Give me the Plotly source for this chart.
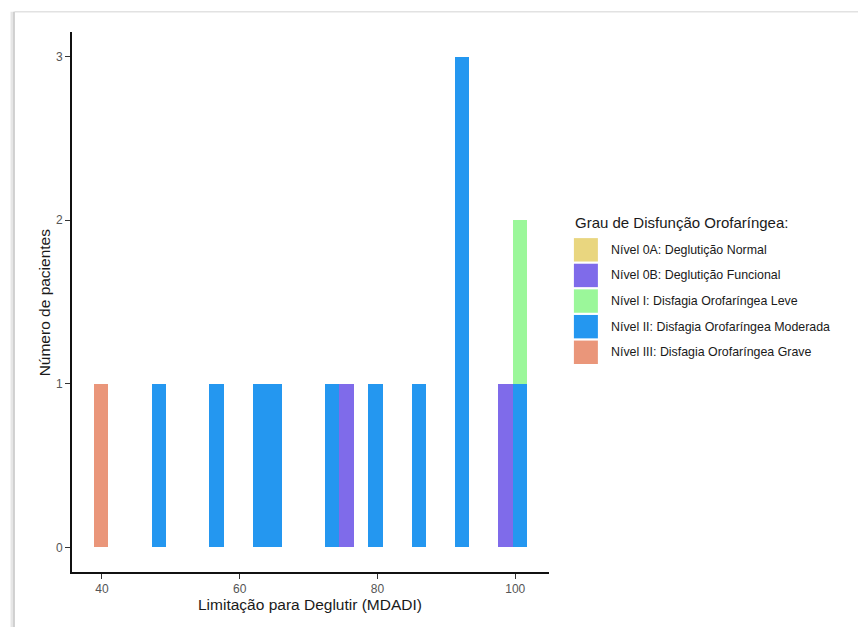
import plotly.graph_objects as go

# ---- data (MDADI scores of patients, by dysfunction level) ----
categories = [
    "Nível 0A: Deglutição Normal",
    "Nível 0B: Deglutição Funcional",
    "Nível I: Disfagia Orofaríngea Leve",
    "Nível II: Disfagia Orofaríngea Moderada",
    "Nível III: Disfagia Orofaríngea Grave",
]
colors = ["#E9D67F", "#7F6BEA", "#9BF79A", "#2497F0", "#EA967A"]
values_0A = []
values_0B = [75.53, 98.61]
values_I = [100.71]
values_II = [48.25, 56.64, 62.94, 65.04, 73.43, 79.72, 86.02, 92.31, 92.31, 92.31, 100.71]
values_III = [39.86]
series = [values_0A, values_0B, values_I, values_II, values_III]

bin_start = 38.81
bin_size = 2.098
bin_end = 101.77

x_ticks = [40, 60, 80, 100]
y_ticks = [0, 1, 2, 3]

OFF = 8  # page body margin
W, H = 866 - OFF, 627 - OFF
# plot area in page pixels
L, R, T, B = 71.5, 548.6, 32.3, 572.0


def px(x):
    return (x - L) / (R - L)


def py(y):
    return (B - y) / (B - T)


fig = go.Figure()
# stacking: first trace at bottom -> add in reverse of ggplot level order
for name, vals, col in reversed(list(zip(categories, series, colors))):
    fig.add_trace(go.Histogram(
        x=vals, name=name, marker=dict(color=col, line=dict(width=0)),
        xbins=dict(start=bin_start, end=bin_end, size=bin_size),
        autobinx=False, showlegend=False, hoverinfo="x+y+name",
    ))

shapes = []
annotations = []

# manual legend (ggplot-style keys)
annotations.append(dict(
    x=px(572.5), y=py(223), xref="paper", yref="paper", xanchor="left", yanchor="middle",
    text="Grau de Disfunção Orofaríngea:", showarrow=False,
    font=dict(family="Liberation Sans, Arial", size=15, color="#1a1a1a"),
))
key_tops = [238.3, 263.9, 289.5, 315.1, 340.7]
for name, col, top in zip(categories, colors, key_tops):
    shapes.append(dict(type="rect", xref="paper", yref="paper",
                       x0=px(573.5), x1=px(597.5), y0=py(top), y1=py(top + 23.4),
                       fillcolor=col, line=dict(width=0), layer="above"))
    annotations.append(dict(
        x=px(609), y=py(top + 11.7), xref="paper", yref="paper",
        xanchor="left", yanchor="middle", text=name, showarrow=False,
        font=dict(family="Liberation Sans, Arial", size=12.4, color="#1a1a1a"),
    ))

# axis titles
annotations.append(dict(
    x=px(310), y=py(604), xref="paper", yref="paper", xanchor="center", yanchor="middle",
    text="Limitação para Deglutir (MDADI)", showarrow=False,
    font=dict(family="Liberation Sans, Arial", size=15.5, color="#1a1a1a"),
))
annotations.append(dict(
    x=px(44), y=py(303), xref="paper", yref="paper", xanchor="center", yanchor="middle",
    text="Número de pacientes", showarrow=False, textangle=-90,
    font=dict(family="Liberation Sans, Arial", size=15.5, color="#1a1a1a"),
))

# screenshot frame (light border + left shadow)
shapes.append(dict(type="line", xref="paper", yref="paper",
                   x0=px(14), x1=px(866), y0=py(12), y1=py(12),
                   line=dict(color="#e2e2e2", width=1.5)))
shapes.append(dict(type="line", xref="paper", yref="paper",
                   x0=px(11.5), x1=px(11.5), y0=py(12), y1=py(627),
                   line=dict(color="#e6e6e6", width=3)))
shapes.append(dict(type="line", xref="paper", yref="paper",
                   x0=px(13.5), x1=px(13.5), y0=py(12), y1=py(627),
                   line=dict(color="#c4c4c4", width=1.5)))

fig.update_layout(
    width=W, height=H,
    margin=dict(l=L - OFF, r=866 - R, t=T - OFF, b=627 - B, pad=0),
    barmode="stack", bargap=0,
    paper_bgcolor="white", plot_bgcolor="white",
    shapes=shapes, annotations=annotations,
    font=dict(family="Liberation Sans, Arial"),
    xaxis=dict(
        range=[35.66, 104.9], tickmode="array", tickvals=x_ticks,
        ticktext=[str(v) for v in x_ticks],
        showgrid=False, zeroline=False, showline=True, linecolor="#111111", linewidth=1.6,
        ticks="outside", ticklen=5, tickcolor="#333333", tickwidth=1,
        tickfont=dict(size=12, color="#555555"),
    ),
    yaxis=dict(
        range=[-0.15, 3.15], tickmode="array", tickvals=y_ticks,
        ticktext=[str(v) for v in y_ticks],
        showgrid=False, zeroline=False, showline=True, linecolor="#111111", linewidth=1.6,
        ticks="outside", ticklen=5, tickcolor="#333333", tickwidth=1,
        tickfont=dict(size=12, color="#555555"),
    ),
)

fig.write_html("out.html")
